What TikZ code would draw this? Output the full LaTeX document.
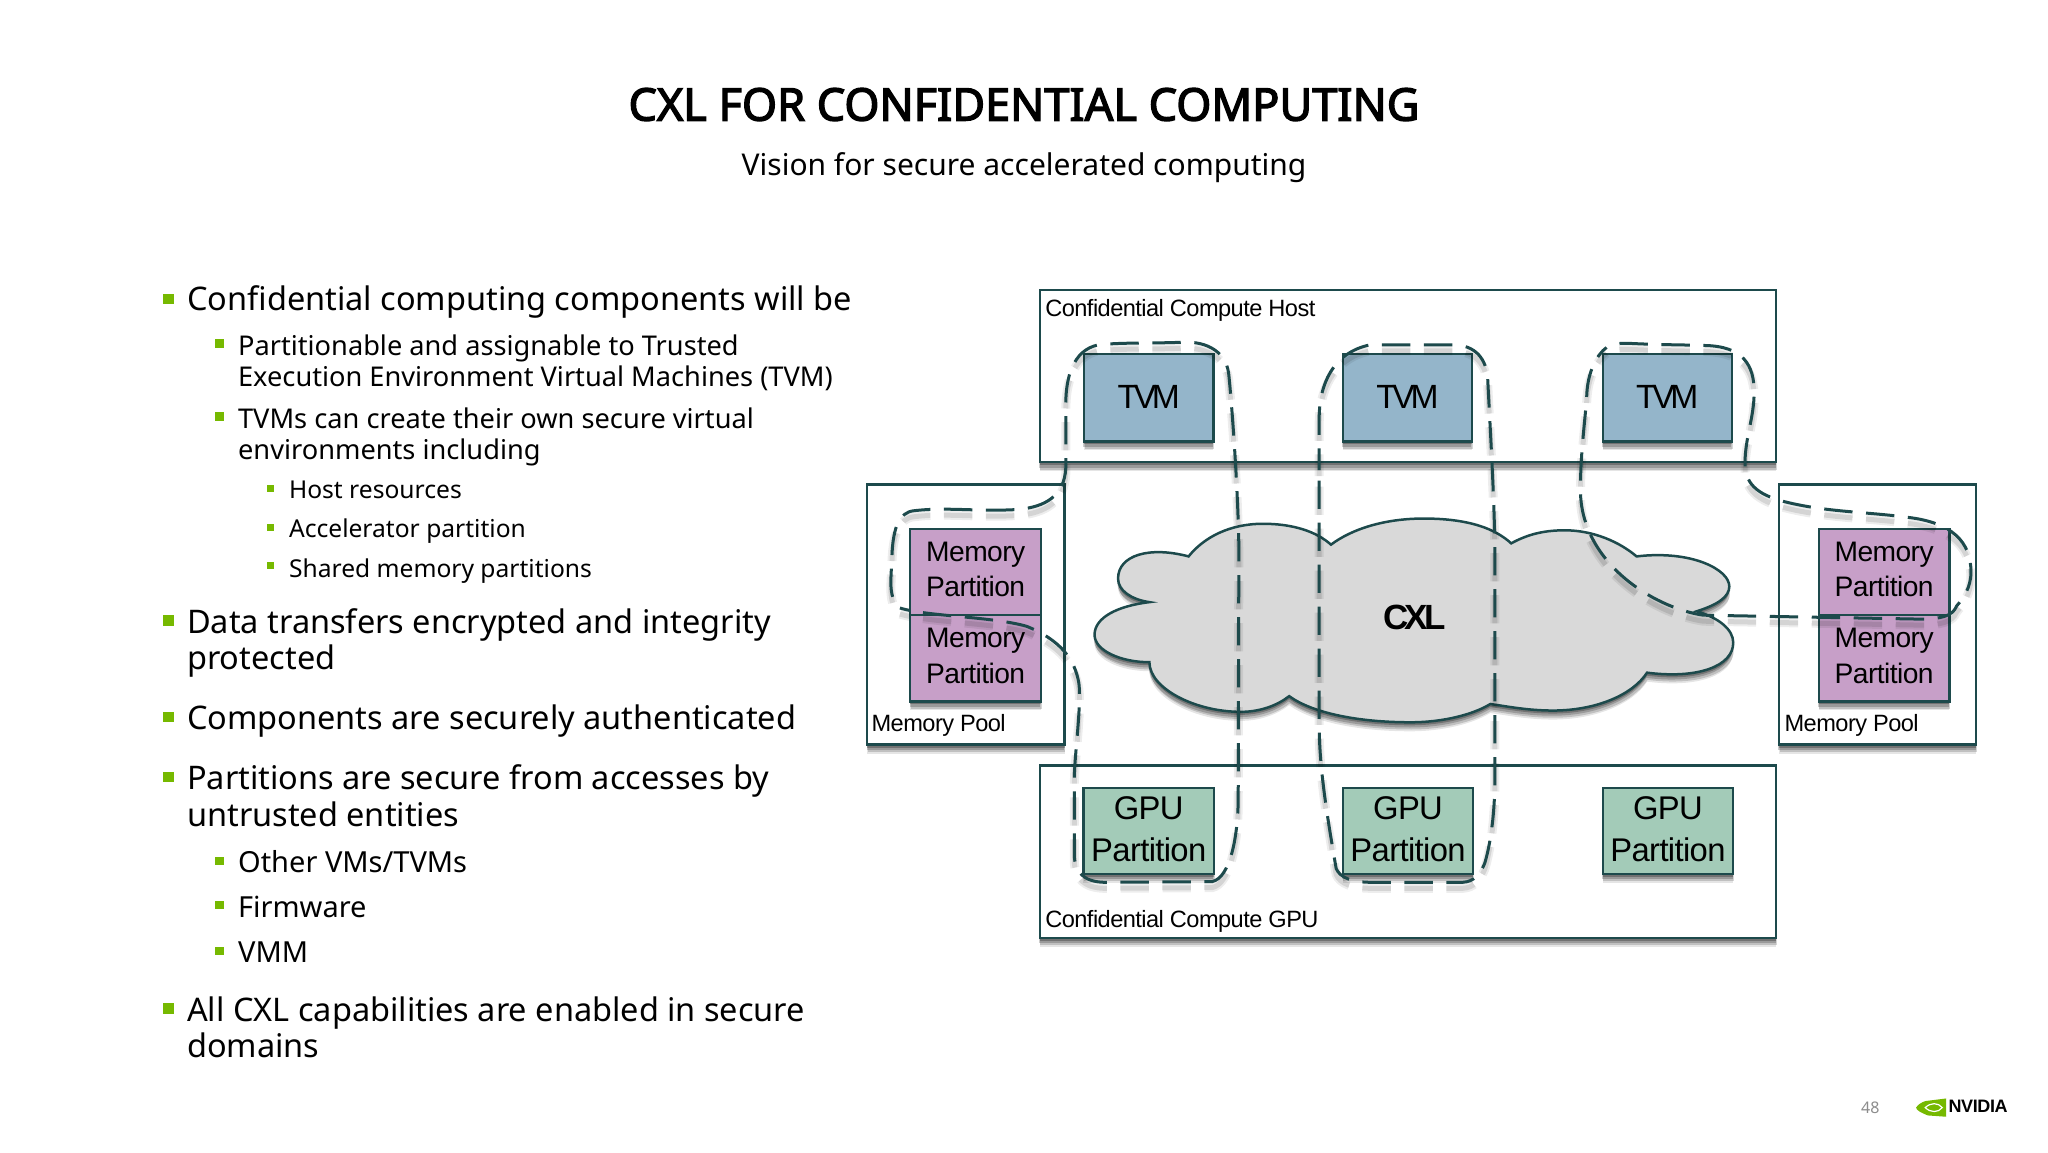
\documentclass[tikz,border=0pt]{standalone}
\usepackage{fontspec}
\usetikzlibrary{shadows}
\setmainfont{Noto Sans}
\newfontfamily\bodyfont{Noto Sans}
\newfontfamily\titlefont{Noto Sans}[FakeBold=3]
\newfontfamily\labfont{Liberation Sans}[LetterSpace=-2]
\newfontfamily\smallfont{Liberation Sans}[LetterSpace=-2.3]
\newfontfamily\tightfont{Liberation Sans}[LetterSpace=-13]
\newfontfamily\cxlfont{Liberation Sans}[LetterSpace=-11,BoldFont=Liberation Sans Bold]
\definecolor{strokeC}{HTML}{1D4A4C}
\definecolor{tvmC}{HTML}{94B5CA}
\definecolor{gpuC}{HTML}{A3CBB8}
\definecolor{memC}{HTML}{C79FC8}
\definecolor{cloudC}{HTML}{D9D9D9}
\definecolor{nvgreen}{HTML}{76B900}
\def\u{0.653061pt}
\tikzset{
  softshadow/.style={
    general shadow={fill=black,opacity=.10,shadow yshift=-4.5pt,shadow xshift=0pt},
    general shadow={fill=black,opacity=.16,shadow yshift=-3.6pt,shadow xshift=.3pt},
    general shadow={fill=black,opacity=.20,shadow yshift=-2.6pt,shadow xshift=-.3pt},
    general shadow={fill=black,opacity=.26,shadow yshift=-1.5pt,shadow xshift=0pt}},
  box/.style={draw=strokeC,line width=1.1pt,inner sep=0pt,outer sep=0pt,softshadow},
  frame/.style={box,fill=white},
  tvm/.style={box,fill=tvmC,minimum width=99*\u,minimum height=67*\u,text depth=1.2pt,font=\tightfont\fontsize{16.8}{20}\selectfont},
  gpu/.style={box,fill=gpuC,minimum width=100*\u,minimum height=66*\u,align=center,text depth=1.3pt,font=\labfont\fontsize{16.4}{20.9}\selectfont},
  mem/.style={box,fill=memC,minimum width=100*\u,minimum height=66*\u,align=center,text depth=2.6pt,font=\labfont\fontsize{14.1}{17.6}\selectfont},
  lab/.style={anchor=mid west,inner sep=0pt,font=\smallfont\fontsize{11.8}{14}\selectfont},
  bodyA/.style={anchor=mid west,inner sep=0pt,yshift=-3pt,font=\bodyfont\fontsize{16.25}{20}\selectfont},
  bodyB/.style={anchor=mid west,inner sep=0pt,yshift=-2.6pt,font=\bodyfont\fontsize{13.6}{18}\selectfont},
  bodyD/.style={anchor=mid west,inner sep=0pt,yshift=-2.6pt,font=\bodyfont\fontsize{14.5}{18}\selectfont},
  bodyC/.style={anchor=mid west,inner sep=0pt,yshift=-2.4pt,font=\bodyfont\fontsize{12.3}{16}\selectfont},
  bulA/.style={fill=nvgreen,inner sep=0pt,minimum size=8*\u},
  bulB/.style={fill=nvgreen,inner sep=0pt,minimum size=6.5*\u},
  bulC/.style={fill=nvgreen,inner sep=0pt,minimum size=5.5*\u},
  loop/.style={draw=strokeC,line width=1.5pt,dash pattern=on 14.2pt off 6.8pt,dash phase=#1,
    preaction={draw=black,opacity=.07,line width=4.5pt,dash pattern=on 14.2pt off 6.8pt,dash phase=#1,transform canvas={yshift=-3pt}},
    preaction={draw=black,opacity=.10,line width=2.5pt,dash pattern=on 14.2pt off 6.8pt,dash phase=#1,transform canvas={yshift=-3pt}}}
}
\begin{document}
\begin{tikzpicture}[x=\u,y=-\u]
\useasboundingbox (0,0) rectangle (1568,882);

% title
\node[inner sep=0pt,font=\titlefont\fontsize{22.5}{28}\selectfont] (title) at (784,80) {CXL FOR CONFIDENTIAL COMPUTING};
\node[inner sep=0pt,font=\bodyfont\fontsize{15}{19}\selectfont] (subtitle) at (784,128) {Vision for secure accelerated computing};

% bullet text
\node[bulA] (b1) at (129,229) {};
\node[bodyA] (t1) at (143,229) {Confidential computing components will be};
\node[bulB] (b2) at (168,263) {};
\node[bodyB] (t2) at (182,264) {Partitionable and assignable to Trusted};
\node[bodyB] (t2b) at (182,288) {Execution Environment Virtual Machines (TVM)};
\node[bulB] (b3) at (168,319) {};
\node[bodyB] (t3) at (182,320) {TVMs can create their own secure virtual};
\node[bodyB] (t3b) at (182,344) {environments including};
\node[bulC] (b4) at (207,374) {};
\node[bodyC] (t4) at (221,374) {Host resources};
\node[bulC] (b5) at (207,404) {};
\node[bodyC] (t5) at (221,404) {Accelerator partition};
\node[bulC] (b6) at (207,433) {};
\node[bodyC] (t6) at (221,434) {Shared memory partitions};
\node[bulA] (b7) at (129,475) {};
\node[bodyA] (t7) at (143,476) {Data transfers encrypted and integrity};
\node[bodyA] (t7b) at (143,504) {protected};
\node[bulA] (b8) at (129,549) {};
\node[bodyA] (t8) at (143,550) {Components are securely authenticated};
\node[bulA] (b9) at (129,595) {};
\node[bodyA] (t9) at (143,596) {Partitions are secure from accesses by};
\node[bodyA] (t9b) at (143,624) {untrusted entities};
\node[bulB] (b10) at (168,659) {};
\node[bodyD] (t10) at (182,660) {Other VMs/TVMs};
\node[bulB] (b11) at (168,693) {};
\node[bodyD] (t11) at (182,694) {Firmware};
\node[bulB] (b12) at (168,728) {};
\node[bodyD] (t12) at (182,729) {VMM};
\node[bulA] (b13) at (129,772) {};
\node[bodyA] (t13) at (143,773) {All CXL capabilities are enabled in secure};
\node[bodyA] (t13b) at (143,801) {domains};

% frames
\node[frame,minimum width=564*\u,minimum height=132*\u] (host) at (1078,288) {};
\node[frame,minimum width=564*\u,minimum height=132*\u] (gpuhost) at (1078,652) {};
\node[frame,minimum width=151*\u,minimum height=199*\u] (poolL) at (739.5,470.5) {};
\node[frame,minimum width=151*\u,minimum height=199*\u] (poolR) at (1437.5,470.5) {};
\node[lab] (hostlab) at (800,238) {Confidential Compute Host};
\node[lab] (gpulab) at (800,706) {Confidential Compute GPU};
\node[lab] (poolLlab) at (667,556) {Memory Pool};
\node[lab] (poolRlab) at (1366,556) {Memory Pool};

% cloud
\path[draw=strokeC,line width=1.25pt,fill=cloudC,softshadow]
  (910,426) .. controls (880,418) and (856,425) .. (856,443)
  .. controls (856,452) and (866,459) .. (880,461)
  .. controls (855,464) and (838,473) .. (838,486)
  .. controls (838,498) and (858,507) .. (880,507)
  .. controls (880,527) and (915,545) .. (950,545)
  .. controls (965,545) and (978,540) .. (987,533)
  .. controls (1005,546) and (1040,553) .. (1080,553)
  .. controls (1105,553) and (1128,547) .. (1141,539)
  .. controls (1155,541) and (1170,544) .. (1189,544)
  .. controls (1222,544) and (1250,532) .. (1261,515)
  .. controls (1300,520) and (1327,510) .. (1327,492)
  .. controls (1327,482) and (1316,473) .. (1299,468)
  .. controls (1315,463) and (1324,457) .. (1324,449)
  .. controls (1324,436) and (1295,421) .. (1253,426)
  .. controls (1240,415) and (1220,406) .. (1198,406)
  .. controls (1180,406) and (1168,410) .. (1157,416)
  .. controls (1145,405) and (1125,397) .. (1090,397)
  .. controls (1060,397) and (1035,405) .. (1019,417)
  .. controls (1008,407) and (990,401) .. (967,401)
  .. controls (942,401) and (922,411) .. (910,426) -- cycle;
\node[inner sep=0pt,font=\cxlfont\bfseries\fontsize{17.5}{20}\selectfont] (cxl) at (1083,473) {CXL};

% partitions
\node[tvm] (tvm1) at (879.5,304.5) {TVM};
\node[tvm] (tvm2) at (1077.5,304.5) {TVM};
\node[tvm] (tvm3) at (1276.5,304.5) {TVM};
\node[gpu] (gpu1) at (879.5,636) {GPU\\Partition};
\node[gpu] (gpu2) at (1078,636) {GPU\\Partition};
\node[gpu] (gpu3) at (1277,636) {GPU\\Partition};
\node[mem] (memL1) at (747,438) {Memory\\Partition};
\node[mem] (memL2) at (747,504) {Memory\\Partition};
\node[mem] (memR1) at (1442.5,438) {Memory\\Partition};
\node[mem] (memR2) at (1442.5,504) {Memory\\Partition};

% secure domains
\path[loop=14.2pt]
  (689,465.5) .. controls (684,462) and (682,455) .. (682,445) -- (683,423)
  .. controls (684,405) and (688,392) .. (700,391)
  .. controls (725,388) and (750,392) .. (780,390)
  .. controls (800,388) and (815,380) .. (816,358) -- (816,309)
  .. controls (816,290) and (821,268) .. (841,264)
  .. controls (860,262) and (885,263) .. (905,262)
  .. controls (925,261) and (940,270) .. (941,289)
  .. controls (944,320) and (948,380) .. (948.5,420) -- (948,610)
  .. controls (948,640) and (942,672) .. (928,675) -- (845,675.5)
  .. controls (830,675) and (823,668) .. (822.5,655) -- (822.5,595)
  .. controls (823,575) and (828,540) .. (826,523)
  .. controls (823,505) and (812,490) .. (786,479.5)
  .. controls (760,472) and (710,472) .. (689,465.5) -- cycle;
\path[loop=3.3pt]
  (1010,360) -- (1010,320)
  .. controls (1010,295) and (1020,270) .. (1049,264) -- (1112,264)
  .. controls (1130,264) and (1138,275) .. (1139,290)
  .. controls (1141,330) and (1144,380) .. (1144.5,420) -- (1144.5,600)
  .. controls (1144,630) and (1140,650) .. (1136.7,661)
  .. controls (1133,670) and (1128,675) .. (1120,675.5) -- (1050,675.5)
  .. controls (1035,675.5) and (1026,672) .. (1023,665)
  .. controls (1017,630) and (1010,590) .. (1010,555) -- cycle;
\path[loop=14.2pt]
  (1230,266) .. controls (1235,263) and (1240,262.5) .. (1250,263)
  .. controls (1270,264) and (1290,264) .. (1305,264.5)
  .. controls (1335,265) and (1343,280) .. (1343,300)
  .. controls (1343,320) and (1336,335) .. (1336,355)
  .. controls (1336,372) and (1348,380) .. (1370,385)
  .. controls (1400,392) and (1430,392) .. (1460,396)
  .. controls (1495,400) and (1509,415) .. (1509,438)
  .. controls (1509,450) and (1503,458) .. (1498,464)
  .. controls (1495,472) and (1485,474) .. (1470,474) -- (1304,471)
  .. controls (1265,465) and (1210,430) .. (1210,375)
  .. controls (1210,345) and (1214,320) .. (1215,300)
  .. controls (1216,285) and (1222,272) .. (1230,266) -- cycle;

% footer
\node[inner sep=0pt,text=black!45,font=\bodyfont\fontsize{8}{9}\selectfont] (page) at (1432,848) {48};
\fill[nvgreen] (1474,843) -- (1490,841) -- (1490,855) -- (1476,854)
  .. controls (1471,852) and (1467,850) .. (1467,848)
  .. controls (1468,846) and (1471,844) .. (1474,843) -- cycle;
\draw[white,line width=.6pt] (1474,848) .. controls (1478,844) and (1484,844) .. (1487,848) .. controls (1484,852) and (1478,852) .. (1474,848) -- cycle;
\node[anchor=mid west,inner sep=0pt,font=\labfont\bfseries\fontsize{9}{9}\selectfont] (logo) at (1491.5,848) {NVIDIA};
\end{tikzpicture}
\end{document}
